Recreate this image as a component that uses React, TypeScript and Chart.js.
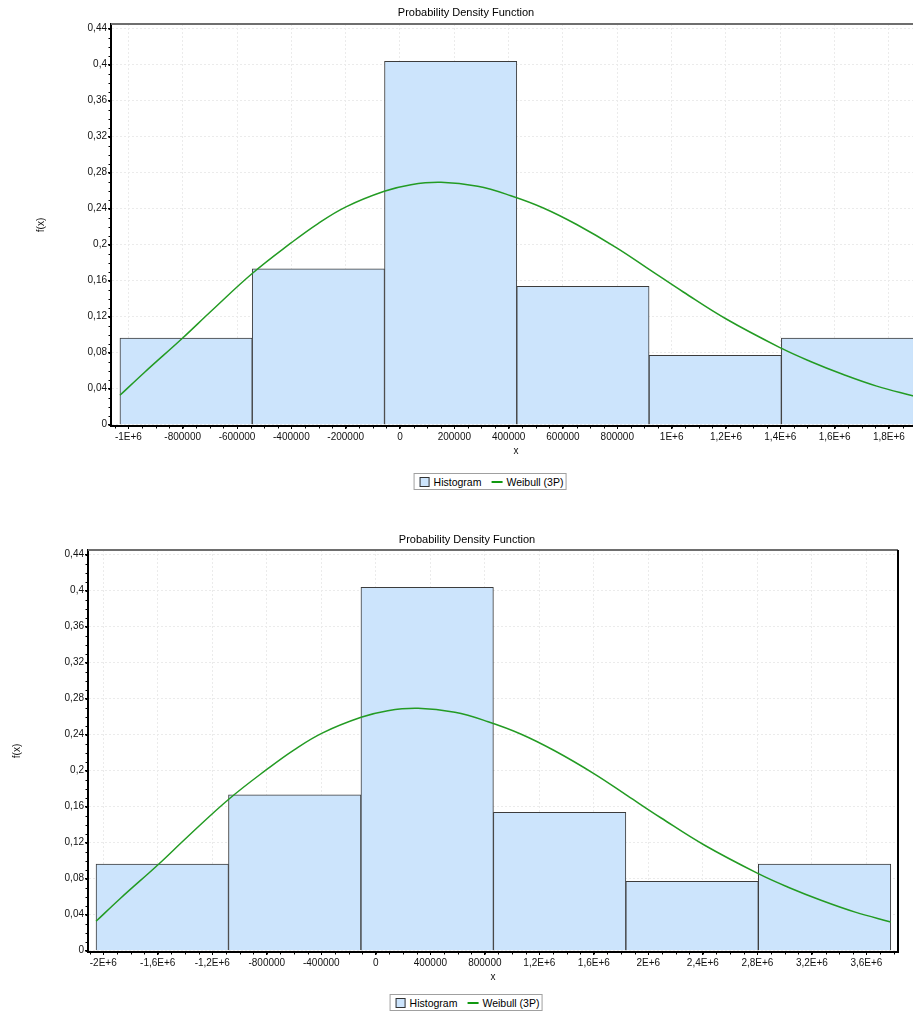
import React, { useEffect, useRef } from 'react';
import { Chart, registerables } from 'chart.js';
Chart.register(...registerables);

const FONT = "'Liberation Sans', Arial, Helvetica, sans-serif";

const chartTitle = 'Probability Density Function';
const xAxisTitle = 'x';
const yAxisTitle = 'f(x)';
const legendLabels = ['Histogram', 'Weibull (3P)'];

// histogram relative frequencies (same for both panels)
const binHeights = [0.0962, 0.1731, 0.4038, 0.1538, 0.0769, 0.0962];
const binEdgesTop = [-1031000, -544000, -57000, 430000, 917000, 1404000, 1891000];
const binEdgesBottom = [-2053000, -1081000, -109000, 863000, 1835000, 2807000, 3779000];

// Weibull (3P) curve
const curveXTop = [-1031000, -941000, -800000, -695700, -542000, -401000, -303000, -198800, -57800, 40500, 151000, 286000, 408000, 527600, 650400, 797600, 920000, 1043000, 1202600, 1405000, 1509000, 1632000, 1755000, 1891000];
const curveYTop = [0.0326, 0.0580, 0.0963, 0.1260, 0.1685, 0.2019, 0.2232, 0.2420, 0.2593, 0.2667, 0.2693, 0.2648, 0.2544, 0.2408, 0.2224, 0.1965, 0.1720, 0.1474, 0.1171, 0.0847, 0.0705, 0.0557, 0.0428, 0.0319];
const curveXBottom = [-2053000, -1875000, -1592000, -1385000, -1077000, -795000, -599000, -390000, -108000, 88000, 310000, 580000, 824000, 1063000, 1309000, 1603000, 1848000, 2094000, 2413000, 2818000, 3026000, 3272000, 3518000, 3779000];
const curveYBottom = [0.0326, 0.0580, 0.0963, 0.1260, 0.1685, 0.2019, 0.2232, 0.2420, 0.2593, 0.2667, 0.2693, 0.2648, 0.2544, 0.2408, 0.2224, 0.1965, 0.1720, 0.1474, 0.1171, 0.0847, 0.0705, 0.0557, 0.0428, 0.0319];

const yTicks = [0, 0.04, 0.08, 0.12, 0.16, 0.2, 0.24, 0.28, 0.32, 0.36, 0.4, 0.44];
const xTicksTop = [-1000000, -800000, -600000, -400000, -200000, 0, 200000, 400000, 600000, 800000, 1000000, 1200000, 1400000, 1600000, 1800000];
const xTicksBottom = [-2000000, -1600000, -1200000, -800000, -400000, 0, 400000, 800000, 1200000, 1600000, 2000000, 2400000, 2800000, 3200000, 3600000];
const xRangeTop = [-1063900, 1918000];
const xRangeBottom = [-2112000, 3832000];
const yRange = [-0.0015, 0.4452];

const BAR_FILL = '#cce4fc';
const CURVE = '#239b23';

const fmtX = (v: number) =>
  Math.abs(v) >= 1e6 ? String(+(v / 1e6).toFixed(1)).replace('.', ',') + 'E+6' : String(v);
const fmtY = (v: number) => String(+v.toFixed(2)).replace('.', ',');

const framePlugin = {
  id: 'frameMinor',
  afterDraw(chart: any, _args: any, opts: any) {
    const { ctx, chartArea, scales } = chart;
    const xs = scales.x;
    const ys = scales.y;
    ctx.save();
    ctx.strokeStyle = '#000';
    ctx.lineWidth = 1;
    ctx.beginPath();
    const xStep = opts.xStep;
    for (let v = Math.ceil(xs.min / xStep) * xStep; v <= xs.max; v += xStep) {
      const px = Math.round(xs.getPixelForValue(v)) + 0.5;
      ctx.moveTo(px, chartArea.bottom);
      ctx.lineTo(px, chartArea.bottom + 2.5);
    }
    const yStep = opts.yStep;
    for (let i = Math.ceil(ys.min / yStep); i * yStep <= ys.max + 1e-9; i++) {
      const py = Math.round(ys.getPixelForValue(i * yStep)) + 0.5;
      ctx.moveTo(chartArea.left - 2.5, py);
      ctx.lineTo(chartArea.left, py);
    }
    ctx.stroke();
    // top border
    ctx.strokeStyle = '#6e6e6e';
    ctx.lineWidth = 2;
    ctx.beginPath();
    ctx.moveTo(chartArea.left, chartArea.top);
    ctx.lineTo(chartArea.right, chartArea.top);
    ctx.stroke();
    if (opts.rightBorder) {
      ctx.strokeStyle = '#000';
      ctx.beginPath();
      ctx.moveTo(chartArea.right, chartArea.top);
      ctx.lineTo(chartArea.right, chartArea.bottom);
      ctx.stroke();
    }
    ctx.restore();
  },
};

type PanelProps = {
  edges: number[];
  curveX: number[];
  curveY: number[];
  xTicks: number[];
  xRange: number[];
  xMinorStep: number;
  width: number;
  height: number;
  yAxisWidth: number;
  padRight: number;
  yTitlePad: number;
  rightBorder: boolean;
};

function Panel(p: PanelProps) {
  const ref = useRef<HTMLCanvasElement | null>(null);
  useEffect(() => {
    if (!ref.current) return;
    const bars = binHeights.map((h, i) => ({ x: (p.edges[i] + p.edges[i + 1]) / 2, y: h }));
    const curve = p.curveX.map((x, i) => ({ x, y: p.curveY[i] }));
    const tickFont = { family: FONT, size: 10 };
    const chart = new Chart(ref.current, {
      type: 'bar',
      data: {
        datasets: [
          {
            type: 'line',
            label: legendLabels[1],
            data: curve,
            borderColor: CURVE,
            borderWidth: 1.5,
            pointRadius: 0,
            tension: 0.4,
            fill: false,
            order: 0,
          } as any,
          {
            type: 'bar',
            label: legendLabels[0],
            data: bars,
            backgroundColor: BAR_FILL,
            borderColor: '#3c3c3c',
            borderWidth: 1,
            barThickness: 'flex',
            barPercentage: 1,
            categoryPercentage: 1,
            order: 1,
          } as any,
        ],
      },
      options: {
        responsive: false,
        animation: false,
        layout: { padding: { left: 0, top: 24, right: p.padRight, bottom: 0 } },
        plugins: {
          legend: { display: false },
          title: { display: false },
          tooltip: { enabled: false },
          frameMinor: { xStep: p.xMinorStep, yStep: 0.01, rightBorder: p.rightBorder },
        } as any,
        scales: {
          x: {
            type: 'linear',
            min: p.xRange[0],
            max: p.xRange[1],
            offset: false,
            afterBuildTicks: (axis: any) => {
              axis.ticks = p.xTicks.map((value) => ({ value }));
            },
            afterFit: (axis: any) => {
              axis.height = p.height - 426;
            },
            ticks: {
              autoSkip: false,
              maxRotation: 0,
              padding: 2,
              color: '#111',
              font: tickFont,
              callback: (v: any) => fmtX(Number(v)),
            },
            grid: {
              offset: false,
              color: '#ebebeb',
              lineWidth: 1,
              tickLength: 3,
              tickColor: '#000',
            },
            border: { display: true, color: '#000', width: 2, dash: [2, 2] },
            title: {
              display: true,
              text: xAxisTitle,
              color: '#111',
              font: tickFont,
              padding: { top: 0, bottom: 5 },
            },
          },
          y: {
            type: 'linear',
            min: yRange[0],
            max: yRange[1],
            afterBuildTicks: (axis: any) => {
              axis.ticks = yTicks.map((value) => ({ value }));
            },
            afterFit: (axis: any) => {
              axis.width = p.yAxisWidth;
            },
            ticks: {
              autoSkip: false,
              padding: 1,
              color: '#111',
              font: tickFont,
              callback: (v: any) => fmtY(Number(v)),
            },
            grid: {
              color: '#ebebeb',
              lineWidth: 1,
              tickLength: 3,
              tickColor: '#000',
            },
            border: { display: true, color: '#000', width: 2, dash: [2, 2] },
            title: {
              display: true,
              text: yAxisTitle,
              color: '#111',
              font: tickFont,
              padding: { top: p.yTitlePad, bottom: 0 },
            },
          },
        },
      } as any,
      plugins: [framePlugin],
    });
    return () => chart.destroy();
  }, []);
  return (
    <canvas
      ref={ref}
      width={p.width}
      height={p.height}
      style={{ display: 'block', width: p.width, height: p.height }}
    />
  );
}

function Legend({ cx, top }: { cx: number; top: number }) {
  return (
    <div
      style={{
        position: 'absolute',
        left: cx,
        top,
        transform: 'translateX(-50%)',
        height: 15,
        border: '1px solid #a0a0a0',
        display: 'flex',
        alignItems: 'center',
        padding: '0 2px 0 5px',
        fontFamily: FONT,
        fontSize: 10.5,
        color: '#000',
        whiteSpace: 'nowrap',
        background: '#fff',
      }}
    >
      <span
        style={{
          display: 'inline-block',
          width: 8,
          height: 8,
          background: BAR_FILL,
          border: '1px solid #333',
          marginRight: 4,
        }}
      />
      <span>{legendLabels[0]}</span>
      <span
        style={{
          display: 'inline-block',
          width: 11,
          height: 2,
          background: '#119911',
          marginLeft: 10,
          marginRight: 4,
        }}
      />
      <span>{legendLabels[1]}</span>
    </div>
  );
}

function Title({ cx, top }: { cx: number; top: number }) {
  return (
    <div
      style={{
        position: 'absolute',
        left: cx,
        top,
        transform: 'translateX(-50%)',
        fontFamily: FONT,
        fontSize: 11,
        lineHeight: '14px',
        color: '#000',
        whiteSpace: 'nowrap',
      }}
    >
      {chartTitle}
    </div>
  );
}

export default function App() {
  return (
    <div
      style={{
        position: 'fixed',
        left: 0,
        top: 0,
        width: 913,
        height: 1016,
        overflow: 'hidden',
        background: '#fff',
      }}
    >
      <div style={{ position: 'absolute', left: 0, top: 0 }}>
        <Panel
          edges={binEdgesTop}
          curveX={curveXTop}
          curveY={curveYTop}
          xTicks={xTicksTop}
          xRange={xRangeTop}
          xMinorStep={50000}
          width={930}
          height={462}
          yAxisWidth={111}
          padRight={9}
          yTitlePad={35}
          rightBorder={true}
        />
      </div>
      <Title cx={466} top={5} />
      <Legend cx={490} top={473} />
      <div style={{ position: 'absolute', left: 0, top: 526 }}>
        <Panel
          edges={binEdgesBottom}
          curveX={curveXBottom}
          curveY={curveYBottom}
          xTicks={xTicksBottom}
          xRange={xRangeBottom}
          xMinorStep={100000}
          width={913}
          height={462}
          yAxisWidth={88}
          padRight={15}
          yTitlePad={11}
          rightBorder={true}
        />
      </div>
      <Title cx={467} top={532} />
      <Legend cx={466} top={994} />
    </div>
  );
}
